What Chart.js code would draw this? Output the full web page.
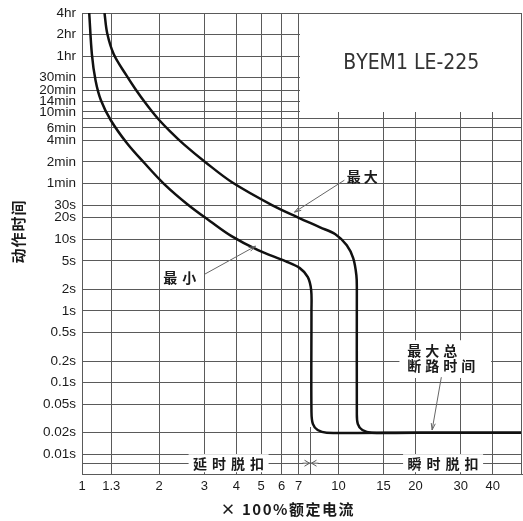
<!DOCTYPE html>
<html>
<head>
<meta charset="utf-8">
<script src="https://cdn.jsdelivr.net/npm/chart.js@4.4.1/dist/chart.umd.min.js"></script>
<style>
html, body { margin: 0; padding: 0; background: #fff; }
#wrap { width: 523px; height: 521px; position: relative; }
</style>
</head>
<body>
<div id="wrap"><canvas id="tripCurve"></canvas></div>
<script>
// ticks (y in seconds, x in multiples of rated current)
var yTickValues = [0.0075, 0.01, 0.02, 0.05, 0.1, 0.2, 0.5, 1, 2, 5, 10, 20, 30, 60, 120, 240, 360, 480, 600, 840, 1200, 1800, 3600, 7200, 14400];
var yTickLabels = ['', '0.01s', '0.02s', '0.05s', '0.1s', '0.2s', '0.5s', '1s', '2s', '5s', '10s', '20s', '30s', '1min', '2min', '4min', '6min', '', '10min', '14min', '20min', '30min', '1hr', '2hr', '4hr'];
var xTickValues = [1, 1.3, 2, 3, 4, 5, 6, 7, 10, 15, 20, 30, 40];
var xTickLabels = ['1', '1.3', '2', '3', '4', '5', '6', '7', '10', '15', '20', '30', '40'];

// 最小 curve
var minCurveX = [1.067, 1.093, 1.129, 1.185, 1.295, 1.498, 1.751, 2.087, 2.575, 3.16, 3.83, 4.86, 6.21, 7.07, 7.6, 7.83, 7.85, 7.85, 7.95, 8.3, 9.0, 20, 52];
var minCurveY = [14400, 3820, 1657, 871, 459, 219, 116, 59.5, 30.9, 17.9, 11.06, 7.05, 4.95, 3.96, 2.96, 1.95, 1.0, 0.04, 0.0265, 0.0218, 0.02, 0.02, 0.02];
// 最大 curve
var maxCurveX = [1.224, 1.254, 1.33, 1.484, 1.612, 1.783, 1.972, 2.211, 2.503, 3.03, 3.86, 5.53, 6.94, 8.48, 9.73, 10.78, 11.42, 11.75, 11.8, 11.8, 11.9, 12.4, 13.5, 25, 52];
var maxCurveY = [14400, 7500, 3820, 1984, 1265, 766, 489, 318, 209.5, 119, 62, 29.8, 20.3, 14.7, 11.75, 8.25, 5.44, 3.15, 2.0, 0.04, 0.0265, 0.0218, 0.02, 0.02, 0.02];

var gridColor = '#5a5a5a';
var inkColor = '#1a1a1a';
var cjkFont = '"Noto Sans CJK SC", sans-serif';

function toPoints(xs, ys) {
  return xs.map(function (x, i) { return { x: x, y: ys[i] }; });
}

// draw text char by char with extra spacing, centred on cx
function spacedText(ctx, text, cx, cy, gap) {
  var chars = Array.from(text);
  var widths = chars.map(function (c) { return ctx.measureText(c).width; });
  var total = widths.reduce(function (a, b) { return a + b; }, 0) + gap * (chars.length - 1);
  var x = cx - total / 2;
  ctx.textAlign = 'left';
  chars.forEach(function (c, i) {
    ctx.fillText(c, x, cy);
    x += widths[i] + gap;
  });
  return total;
}

function arrow(ctx, x1, y1, x2, y2) {
  var ang = Math.atan2(y2 - y1, x2 - x1);
  ctx.beginPath();
  ctx.moveTo(x1, y1);
  ctx.lineTo(x2, y2);
  ctx.moveTo(x2 - 7 * Math.cos(ang - 0.3), y2 - 7 * Math.sin(ang - 0.3));
  ctx.lineTo(x2, y2);
  ctx.lineTo(x2 - 7 * Math.cos(ang + 0.3), y2 - 7 * Math.sin(ang + 0.3));
  ctx.stroke();
}

var overlay = {
  id: 'overlay',
  beforeDatasetsDraw: function (chart) {
    var ctx = chart.ctx, xs = chart.scales.x, ys = chart.scales.y, a = chart.chartArea;
    ctx.save();
    ctx.fillStyle = '#fff';
    // model name box covers the grid from 7x / 10min up to the corner
    var bx = Math.round(xs.getPixelForValue(7)), by = Math.round(ys.getPixelForValue(600));
    ctx.fillRect(bx + 1, a.top + 1, a.right - bx, by - a.top - 1);
    // note box for 最大总断路时间
    var nx1 = xs.getPixelForValue(17.3), nx2 = xs.getPixelForValue(39.4);
    var ny1 = ys.getPixelForValue(0.39), ny2 = ys.getPixelForValue(0.116);
    ctx.fillRect(nx1, ny1, nx2 - nx1, ny2 - ny1);
    // backgrounds for the two trip-zone words on the bottom line
    var ly = ys.getPixelForValue(0.0075);
    ctx.fillRect(xs.getPixelForValue(3.73) - 40, ly - 9, 80, 18);
    ctx.fillRect(xs.getPixelForValue(25.6) - 40, ly - 9, 80, 18);
    ctx.fillRect(xs.getPixelForValue(7.3), ly - 4, xs.getPixelForValue(8.3) - xs.getPixelForValue(7.3), 8);
    ctx.restore();
  },
  afterDatasetsDraw: function (chart) {
    var ctx = chart.ctx, xs = chart.scales.x, ys = chart.scales.y, a = chart.chartArea;
    var px = function (v) { return xs.getPixelForValue(v); };
    var py = function (v) { return ys.getPixelForValue(v); };
    ctx.save();
    // right border
    ctx.strokeStyle = gridColor;
    ctx.lineWidth = 1;
    ctx.beginPath();
    ctx.moveTo(a.right - 0.5, a.top);
    ctx.lineTo(a.right - 0.5, a.bottom);
    ctx.stroke();

    // boundary marker between delayed and instant trip
    var mx = Math.round(px(7.75)) + 0.5, ly = py(0.0075);
    ctx.beginPath();
    ctx.moveTo(mx, py(0.024));
    ctx.lineTo(mx, a.bottom);
    ctx.moveTo(mx - 8, ly);
    ctx.lineTo(mx + 8, ly);
    ctx.moveTo(mx - 6, ly - 3); ctx.lineTo(mx - 1, ly); ctx.lineTo(mx - 6, ly + 3);
    ctx.moveTo(mx + 6, ly - 3); ctx.lineTo(mx + 1, ly); ctx.lineTo(mx + 6, ly + 3);
    ctx.stroke();

    // arrows to curves
    ctx.strokeStyle = '#666';
    ctx.lineWidth = 1;
    arrow(ctx, px(10.55), py(66.8), px(6.74), py(23.9));
    arrow(ctx, px(3.01), py(3.26), px(4.75), py(8.02));
    arrow(ctx, px(25.2), py(0.119), px(23.2), py(0.0218));

    // labels
    ctx.fillStyle = inkColor;
    ctx.textBaseline = 'middle';
    ctx.font = 'bold 14px ' + cjkFont;
    spacedText(ctx, '最大', px(12.4), py(75.9), 3);
    spacedText(ctx, '最小', px(2.406), py(2.87), 5);
    var nx = px(18.56);
    ['最大总', '断路时间'].forEach(function (t, i) {
      var x = nx;
      Array.from(t).forEach(function (c) {
        ctx.textAlign = 'left';
        ctx.fillText(c, x, py(i === 0 ? 0.275 : 0.17));
        x += ctx.measureText(c).width + 4;
      });
    });
    spacedText(ctx, '延时脱扣', px(3.73), ly, 5);
    spacedText(ctx, '瞬时脱扣', px(25.6), ly, 5);

    // model name
    ctx.fillStyle = '#333';
    ctx.font = '21px "Liberation Sans Narrow", "DejaVu Sans Condensed", sans-serif';
    spacedText(ctx, 'BYEM1 LE-225', px(19.23), py(2861), 0);

    // axis titles
    ctx.fillStyle = inkColor;
    ctx.font = 'bold 15px ' + cjkFont;
    ctx.save();
    ctx.translate(18, 232);
    ctx.rotate(-Math.PI / 2);
    spacedText(ctx, '动作时间', 0, 0, 1);
    ctx.restore();
    ctx.font = 'bold 15px ' + cjkFont;
    spacedText(ctx, '× 100%额定电流', 287, 509, 1.5);
    ctx.restore();
  }
};

var ctx = document.getElementById('tripCurve').getContext('2d');
var chart = new Chart(ctx, {
  type: 'line',
  data: {
    datasets: [{
      label: '最小',
      data: toPoints(minCurveX, minCurveY),
      borderColor: '#111',
      borderWidth: 2.5,
      pointRadius: 0,
      tension: 0.35,
      fill: false
    }, {
      label: '最大',
      data: toPoints(maxCurveX, maxCurveY),
      borderColor: '#111',
      borderWidth: 2.5,
      pointRadius: 0,
      tension: 0.35,
      fill: false
    }]
  },
  options: {
    responsive: true,
    maintainAspectRatio: false,
    animation: false,
    layout: { padding: { top: 13, right: 1, left: 0, bottom: 0 } },
    plugins: { legend: { display: false }, tooltip: { enabled: false } },
    scales: {
      x: {
        type: 'logarithmic',
        min: 1,
        max: 52,
        afterBuildTicks: function (s) { s.ticks = xTickValues.map(function (v) { return { value: v }; }); },
        afterFit: function (s) { s.height = 47; s.paddingLeft = 0; s.paddingRight = 0; },
        grid: { color: gridColor, lineWidth: 1, drawTicks: false },
        border: { display: true, color: gridColor, width: 1 },
        ticks: {
          autoSkip: false, maxRotation: 0, padding: 5, color: '#1a1a1a',
          font: { family: '"Liberation Sans", sans-serif', size: 13 },
          callback: function (v) { var i = xTickValues.indexOf(v); return i < 0 ? '' : xTickLabels[i]; }
        }
      },
      y: {
        type: 'logarithmic',
        min: 0.0053,
        max: 14400,
        afterBuildTicks: function (s) { s.ticks = yTickValues.map(function (v) { return { value: v }; }); },
        afterFit: function (s) { s.width = 82; s.paddingTop = 0; s.paddingBottom = 0; },
        grid: { color: gridColor, lineWidth: 1, drawTicks: false },
        border: { display: true, color: gridColor, width: 1 },
        ticks: {
          autoSkip: false, padding: 6, color: '#1a1a1a',
          font: { family: '"Liberation Sans", sans-serif', size: 13.5 },
          callback: function (v) { var i = yTickValues.indexOf(v); return i < 0 ? '' : yTickLabels[i]; }
        }
      }
    }
  },
  plugins: [overlay]
});
</script>
</body>
</html>
